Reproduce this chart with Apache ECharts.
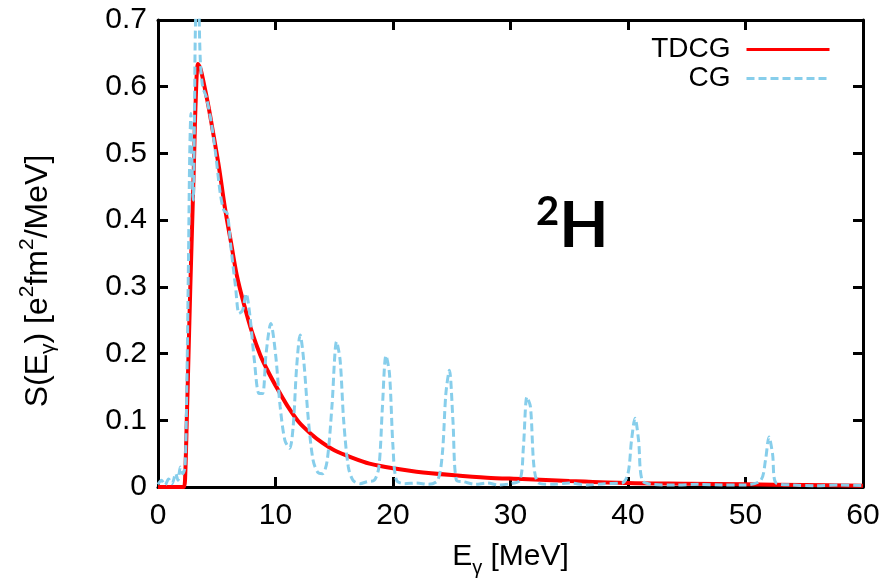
<!DOCTYPE html>
<html>
<head>
<meta charset="utf-8">
<script src="https://cdn.jsdelivr.net/npm/echarts@6/dist/echarts.min.js"></script>
<style>
html,body{margin:0;padding:0;background:#fff;}
#chart{width:895px;height:583px;}
</style>
</head>
<body>
<div id="chart"></div>
<script>
// ---- data ----
var xTicks = [0, 10, 20, 30, 40, 50, 60];
var yTicks = [0, 0.1, 0.2, 0.3, 0.4, 0.5, 0.6, 0.7];

var tdcgX = [0, 1, 2.0, 2.2, 2.3, 2.45, 2.6, 2.75, 2.9, 3.05, 3.2, 3.4, 3.6, 3.9, 4.3, 4.7, 5.2, 5.7, 6.2, 6.7, 7.3, 8.0, 8.7, 9.4, 10.2, 11, 12, 13, 14, 15, 16.5, 18, 20, 22, 25, 28, 31, 35, 40, 45, 50, 55, 60];
var tdcgY = [0, 0, 0, 0, 0.01, 0.1, 0.2, 0.3, 0.39, 0.48, 0.575, 0.634, 0.628, 0.605, 0.57, 0.53, 0.478, 0.418, 0.368, 0.318, 0.275, 0.232, 0.198, 0.172, 0.146, 0.122, 0.097, 0.08, 0.066, 0.055, 0.044, 0.035, 0.028, 0.023, 0.018, 0.014, 0.012, 0.009, 0.006, 0.005, 0.004, 0.003, 0.002];

var cgX = [0, 0.3, 0.6, 0.9, 1.2, 1.5, 1.7, 1.9, 2.1, 2.3, 2.45, 2.6, 2.7, 2.8, 2.9, 3.0, 3.1, 3.2, 3.4, 3.6, 3.8, 4.1, 4.5, 4.9, 5.3, 5.6, 5.9, 6.2, 6.6, 6.9, 7.2, 7.5, 7.8, 8.2, 8.6, 8.9, 9.2, 9.6, 10.0, 10.4, 10.8, 11.2, 11.5, 11.8, 12.1, 12.4, 12.8, 13.2, 13.6, 14.0, 14.4, 14.8, 15.2, 15.5, 15.8, 16.2, 16.6, 17.2, 17.8, 18.4, 18.8, 19.1, 19.4, 19.7, 20.0, 20.3, 21, 22, 23, 23.8, 24.2, 24.5, 24.8, 25.1, 25.4, 26, 27, 28, 29, 30, 30.8, 31.1, 31.4, 31.7, 32.0, 32.4, 33.5, 35, 36.5, 38, 39.5, 40.0, 40.3, 40.6, 40.9, 41.2, 42, 44, 46, 48, 50, 51.3, 51.7, 52.0, 52.3, 52.6, 54, 56, 58, 60];
var cgY = [0.004, 0.01, 0.003, 0.012, 0.005, 0.02, 0.01, 0.03, 0.02, 0.03, 0.15, 0.35, 0.5, 0.56, 0.48, 0.43, 0.55, 0.7, 0.75, 0.64, 0.6, 0.585, 0.55, 0.5, 0.44, 0.415, 0.41, 0.36, 0.3, 0.26, 0.265, 0.29, 0.26, 0.19, 0.14, 0.14, 0.2, 0.245, 0.2, 0.12, 0.07, 0.058, 0.09, 0.18, 0.228, 0.19, 0.1, 0.04, 0.022, 0.02, 0.04, 0.12, 0.218, 0.19, 0.1, 0.03, 0.01, 0.005, 0.008, 0.01, 0.03, 0.12, 0.197, 0.17, 0.06, 0.01, 0.005, 0.006, 0.004, 0.01, 0.05, 0.14, 0.175, 0.1, 0.01, 0.008, 0.004, 0.006, 0.003, 0.005, 0.01, 0.06, 0.135, 0.12, 0.03, 0.006, 0.004, 0.006, 0.003, 0.005, 0.006, 0.02, 0.07, 0.103, 0.07, 0.01, 0.004, 0.003, 0.004, 0.003, 0.003, 0.01, 0.04, 0.075, 0.05, 0.006, 0.003, 0.002, 0.003, 0.002];

var seriesNames = ['TDCG', 'CG'];

function pairs(xs, ys) { return xs.map(function (x, i) { return [x, ys[i]]; }); }

var FONT = 'Liberation Sans, Arial, sans-serif';
var chart = echarts.init(document.getElementById('chart'), null, {renderer: 'canvas'});

var axisLineStyle = {color: '#000', width: 3};
var tickStyle = {show: true, inside: true, length: 10, lineStyle: {color: '#000', width: 3}};
var option = {
  animation: false,
  backgroundColor: '#fff',
  grid: {left: 158, right: 32, top: 20, bottom: 92, containLabel: false},
  legend: {
    data: seriesNames,
    orient: 'vertical',
    right: 59,
    top: 30,
    align: 'right',
    itemWidth: 83,
    itemHeight: 14,
    itemGap: 0,
    itemStyle: {opacity: 0},
    lineStyle: {width: 3},
    textStyle: {fontFamily: FONT, fontSize: 28, color: '#000', lineHeight: 29, padding: [0, 11, 0, 0]}
  },
  xAxis: [{
    type: 'value', min: xTicks[0], max: xTicks[xTicks.length - 1], interval: 10,
    position: 'bottom',
    axisLine: {show: true, onZero: false, lineStyle: axisLineStyle},
    axisTick: tickStyle,
    axisLabel: {fontFamily: FONT, fontSize: 30, color: '#000', margin: 14},
    splitLine: {show: false},
    name: '{m|E}{s|γ}{m| [MeV]}',
    nameLocation: 'middle',
    nameGap: 55,
    nameTextStyle: {
      rich: {
        m: {fontFamily: FONT, fontSize: 30, color: '#000', lineHeight: 36, verticalAlign: 'top'},
        s: {fontFamily: FONT, fontSize: 20, color: '#000', lineHeight: 36, verticalAlign: 'bottom'}
      }
    }
  }, {
    type: 'value', min: xTicks[0], max: xTicks[xTicks.length - 1], interval: 10,
    position: 'top',
    axisLine: {show: true, onZero: false, lineStyle: axisLineStyle},
    axisTick: tickStyle,
    axisLabel: {show: false},
    splitLine: {show: false}
  }],
  yAxis: [{
    type: 'value', min: yTicks[0], max: yTicks[yTicks.length - 1], interval: 0.1,
    position: 'left',
    axisLine: {show: true, onZero: false, lineStyle: axisLineStyle},
    axisTick: tickStyle,
    axisLabel: {fontFamily: FONT, fontSize: 30, color: '#000', margin: 11,
      formatter: function (v) { return String(Math.round(v * 10) / 10); }},
    splitLine: {show: false}
  }, {
    type: 'value', min: yTicks[0], max: yTicks[yTicks.length - 1], interval: 0.1,
    position: 'right',
    axisLine: {show: true, onZero: false, lineStyle: axisLineStyle},
    axisTick: tickStyle,
    axisLabel: {show: false},
    splitLine: {show: false}
  }],
  graphic: [{
    type: 'text',
    x: 38,
    y: 281,
    rotation: Math.PI / 2,
    style: {
      text: '{m|S(E}{s|γ}{m|) [e}{p|2}{m|fm}{p|2}{m|/MeV]}',
      align: 'center',
      verticalAlign: 'middle',
      rich: {
        m: {fontFamily: FONT, fontSize: 32, fill: '#000', lineHeight: 42, verticalAlign: 'middle'},
        s: {fontFamily: FONT, fontSize: 21, fill: '#000', lineHeight: 42, verticalAlign: 'bottom'},
        p: {fontFamily: FONT, fontSize: 21, fill: '#000', lineHeight: 42, verticalAlign: 'top'}
      }
    }
  }, {
    type: 'text',
    left: 536,
    top: 192,
    style: {
      text: '{p|2}{h|H}',
      rich: {
        p: {fontFamily: 'Lato, Noto Sans, sans-serif', fontWeight: 'bold', fontSize: 40, fill: '#000', lineHeight: 66, verticalAlign: 'top'},
        h: {fontFamily: 'Lato, Noto Sans, sans-serif', fontWeight: 'bold', fontSize: 64, fill: '#000', lineHeight: 66, verticalAlign: 'bottom'}
      }
    }
  }],
  series: [{
    name: seriesNames[0],
    type: 'line',
    xAxisIndex: 0, yAxisIndex: 0,
    data: pairs(tdcgX, tdcgY),
    showSymbol: false, symbol: 'none',
    smooth: 0.3,
    clip: true,
    lineStyle: {color: '#ff0000', width: 4},
    itemStyle: {color: '#ff0000'},
    z: 2
  }, {
    name: seriesNames[1],
    type: 'line',
    xAxisIndex: 0, yAxisIndex: 0,
    data: pairs(cgX, cgY),
    showSymbol: false, symbol: 'none',
    smooth: 0.3,
    clip: true,
    lineStyle: {color: '#87ceeb', width: 3, type: [8, 4]},
    itemStyle: {color: '#87ceeb'},
    z: 3
  }]
};
chart.setOption(option);
</script>
</body>
</html>
